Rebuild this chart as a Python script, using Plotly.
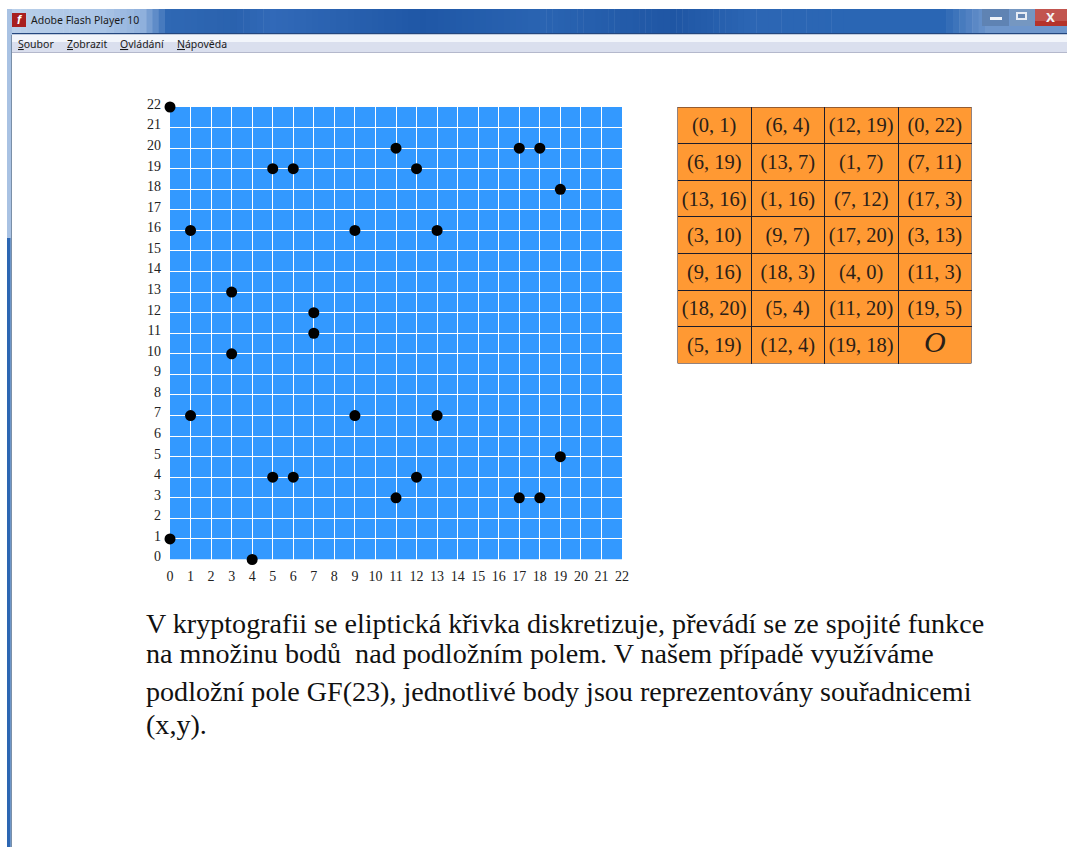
import plotly.graph_objects as go

W, H = 1067, 847
point_x = [0, 6, 12, 0, 6, 13, 1, 7, 13, 1, 7, 17, 3, 9, 17, 3, 9, 18, 4, 11, 18, 5, 11, 19, 5, 12, 19]
point_y = [1, 4, 19, 22, 19, 7, 7, 11, 16, 16, 12, 3, 10, 7, 20, 13, 16, 3, 0, 3, 20, 4, 20, 5, 19, 4, 18]
table_col1 = ["(0, 1)", "(6, 19)", "(13, 16)", "(3, 10)", "(9, 16)", "(18, 20)", "(5, 19)"]
table_col2 = ["(6, 4)", "(13, 7)", "(1, 16)", "(9, 7)", "(18, 3)", "(5, 4)", "(12, 4)"]
table_col3 = ["(12, 19)", "(1, 7)", "(7, 12)", "(17, 20)", "(4, 0)", "(11, 20)", "(19, 18)"]
table_col4 = ["(0, 22)", "(7, 11)", "(17, 3)", "(3, 13)", "(11, 3)", "(19, 5)", '<i><span style="font-size:30px">O</span></i>']
ticks = list(range(23))
menu_items = ["Soubor", "Zobrazit", "Ovládání", "Nápověda"]
menu_x = [16, 65, 118, 175]
body_lines = [
    "V kryptografii se eliptická křivka diskretizuje, převádí se ze spojité funkce",
    "na množinu bodů  nad podložním polem. V našem případě využíváme",
    "podložní pole GF(23), jednotlivé body jsou reprezentovány souřadnicemi",
    "(x,y).",
]
body_y = [623, 653, 691, 724]
title_stops = [(8, "#b9cfe9"), (100, "#a9c4e6"), (140, "#8fb0dc"), (165, "#2f68b4"), (230, "#2a62ae"),
               (270, "#3169b8"), (330, "#2a62b0"), (420, "#1f57a6"), (540, "#2a64b2"), (670, "#1f56a4"),
               (750, "#2c66b4"), (850, "#2a66b4"), (940, "#2a66b4"), (985, "#6e96cc")]


def px(x):
    return x / W


def py(y):
    return 1 - y / H


def rect(x0, y0, x1, y1, color, layer="below"):
    return dict(type="rect", xref="paper", yref="paper", x0=px(x0), x1=px(x1), y0=py(y1), y1=py(y0),
                fillcolor=color, line_width=0, layer=layer)


def hex_mix(a, b, t):
    ca = [int(a[i:i + 2], 16) for i in (1, 3, 5)]
    cb = [int(b[i:i + 2], 16) for i in (1, 3, 5)]
    return "#" + "".join(f"{round(p + (q - p) * t):02x}" for p, q in zip(ca, cb))


shapes = []
for (xa, ca), (xb, cb) in zip(title_stops, title_stops[1:]):
    n = max(1, (xb - xa) // 6)
    for i in range(n):
        shapes.append(rect(xa + (xb - xa) * i / n, 9, xa + (xb - xa) * (i + 1) / n + 0.5, 33,
                           hex_mix(ca, cb, i / n)))
shapes += [
    rect(985, 9, W, 33, "#6e96cc"),
    rect(7, 33, W, 34.5, "#24477f"),
    rect(7, 34.5, W, 42, "#f2f5fb"),
    rect(7, 42, W, 52, "#dadfee"),
    rect(7, 52, W, 53, "#b4b8cc"),
    rect(7, 9, 12, 238, "#a9c2e3"),
    rect(7, 238, 12, H, "#2c66b2"),
    rect(10, 238, 12, H, "#6f97c9"),
    rect(11, 35, 12, H, "#7a8fa8"),
    # caption buttons
    rect(982, 9, 1009, 26, "#5f83b3"),
    rect(1010, 9, 1034, 26, "#7597c1"),
    rect(1035, 9, W, 26, "#c2554f"),
    rect(1035, 21, W, 26, "#b5332a"),
    rect(990, 17, 1002, 20, "#f0f3f8"),
    rect(1016, 12, 1027, 20, "#e6ecf4"),
    rect(1018, 14, 1025, 18, "#6788b4"),
    # flash icon
    rect(12, 13, 26, 27, "#a81f1f"),
    # table background, under the table's grid lines
    dict(type="rect", xref="x2", yref="y2", x0=0, x1=4, y0=0, y1=7, fillcolor="#ff9933", line_width=0, layer="below"),
    # table outline
    dict(type="rect", xref="x2", yref="y2", x0=0, x1=4, y0=0, y1=7, fillcolor="rgba(0,0,0,0)",
         line=dict(color="#2a2030", width=1), layer="above"),
    # plot background
    dict(type="rect", xref="x", yref="y", x0=0, x1=22, y0=0, y1=22, fillcolor="#3399ff", line_width=0, layer="below"),
]

annotations = []
annotations.append(dict(text="Adobe Flash Player 10", x=px(29), y=py(20.5), xref="paper", yref="paper",
                        showarrow=False, xanchor="left", yanchor="middle",
                        font=dict(family="Noto Sans", size=10.5, color="#1a1a1a")))
annotations.append(dict(text="<b><i>f</i></b>", x=px(19), y=py(20), xref="paper", yref="paper", showarrow=False,
                        xanchor="center", yanchor="middle",
                        font=dict(family="Liberation Sans", size=12, color="#ffffff")))
annotations.append(dict(text="<b>x</b>", x=px(1050), y=py(16), xref="paper", yref="paper", showarrow=False,
                        xanchor="center", yanchor="middle",
                        font=dict(family="Liberation Sans", size=16, color="#f4f4f4")))
for t, x in zip(menu_items, menu_x):
    annotations.append(dict(text=f"<u>{t[0]}</u>{t[1:]}", x=px(x), y=py(44.5), xref="paper", yref="paper",
                            showarrow=False, xanchor="left", yanchor="middle",
                            font=dict(family="Noto Sans", size=10.5, color="#1a1a1a")))
for t, y in zip(body_lines, body_y):
    annotations.append(dict(text=t, x=px(144), y=py(y), xref="paper", yref="paper", showarrow=False,
                            xanchor="left", yanchor="middle",
                            font=dict(family="Liberation Serif", size=28.1, color="#111111")))

fig = go.Figure()
fig.add_trace(go.Scatter(x=point_x, y=point_y, mode="markers", cliponaxis=False, showlegend=False,
                         marker=dict(color="#000000", size=11, line_width=0)))
columns = [table_col1, table_col2, table_col3, table_col4]
cell_x = [c + 0.5 for c, col in enumerate(columns) for _ in col]
cell_y = [len(col) - r - 0.55 for col in columns for r in range(len(col))]
cell_text = [t for col in columns for t in col]
fig.add_trace(go.Scatter(x=cell_x, y=cell_y, text=cell_text, mode="text", xaxis="x2", yaxis="y2", showlegend=False,
                         textposition="middle center", cliponaxis=False,
                         textfont=dict(family="Liberation Serif", size=20.5, color="#2a2018")))
axis_common = dict(tickmode="array", tickvals=ticks, ticktext=[str(t) for t in ticks], range=[0, 22],
                   showgrid=True, gridcolor="#ffffff", gridwidth=1, zeroline=False, showline=False, automargin=False,
                   ticks="", tickfont=dict(family="Liberation Serif", size=14, color="#222222"))
table_axis = dict(showgrid=True, gridcolor="#1c1c2c", gridwidth=1, zeroline=False, showline=False, automargin=False,
                  ticks="", showticklabels=False, tickmode="linear", tick0=0, dtick=1)
fig.update_layout(
    width=W, height=H, margin=dict(l=0, r=0, t=0, b=0), autosize=False,
    paper_bgcolor="#ffffff", plot_bgcolor="rgba(0,0,0,0)", showlegend=False,
    xaxis=dict(domain=[px(170), px(622)], anchor="y", ticklabelstandoff=6, **axis_common),
    yaxis=dict(domain=[py(559.5), py(107)], anchor="x", ticklabelstandoff=8, ticklabelshift=-3, **axis_common),
    xaxis2=dict(domain=[px(677.5), px(971.5)], anchor="y2", range=[0, 4], **table_axis),
    yaxis2=dict(domain=[py(363.5), py(107)], anchor="x2", range=[0, 7], **table_axis),
    shapes=shapes,
    annotations=annotations,
)
fig.write_html("out.html", config=dict(displayModeBar=False),
               post_script="document.body.style.margin='0';document.body.style.overflow='hidden';")
